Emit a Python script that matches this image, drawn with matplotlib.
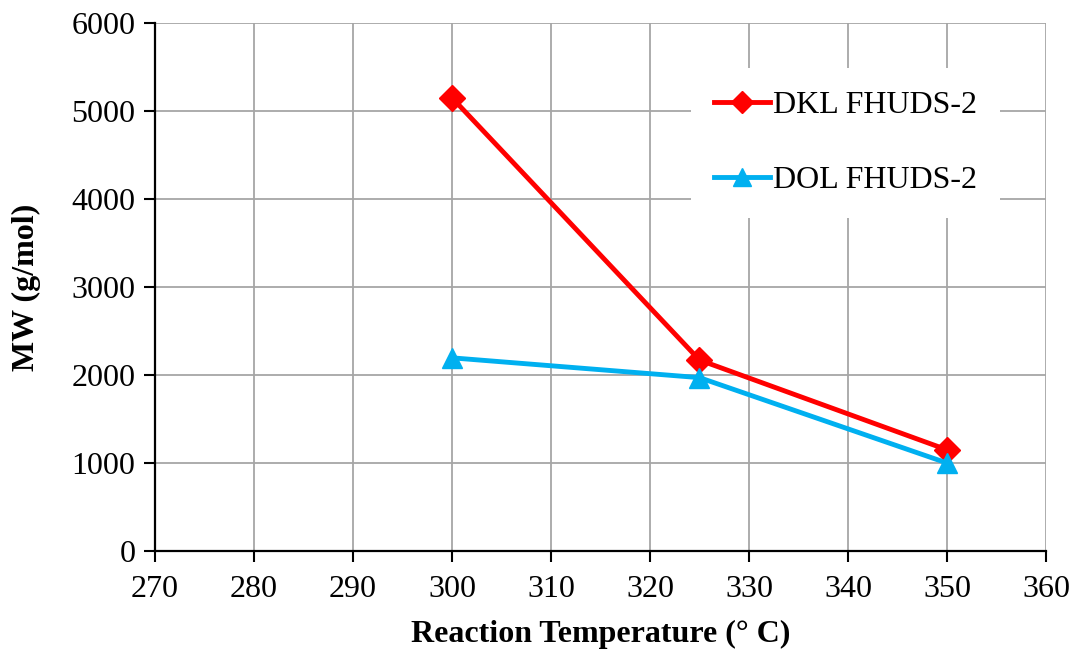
import numpy as np
import matplotlib.pyplot as plt

plt.rcParams['font.family'] = ['Liberation Serif', 'DejaVu Serif']

temp = [300, 325, 350]
mw_dkl = [5150, 2170, 1150]
mw_dol = [2195, 1970, 1000]
labels = ['DKL FHUDS-2', 'DOL FHUDS-2']

fig = plt.figure(figsize=(10.73, 6.51), dpi=100)
ax = fig.add_axes([0.1445, 0.1536, 0.8303, 0.8111])

ax.plot(temp, mw_dkl, color='#ff0000', lw=3.5, marker='D', ms=13, label=labels[0], zorder=3)
ax.plot(temp, mw_dol, color='#00b0f0', lw=3.5, marker='^', ms=15, label=labels[1], zorder=3)

ax.set_xlim(270, 360)
ax.set_ylim(0, 6000)
ax.set_xticks(np.arange(270, 361, 10))
ax.set_yticks(np.arange(0, 6001, 1000))
ax.grid(True, color='#a6a6a6', lw=1.3)
ax.set_axisbelow(True)

for s in ['top', 'right']:
    ax.spines[s].set_visible(False)
ax.spines['left'].set_linewidth(1.6)
ax.spines['bottom'].set_linewidth(1.6)
ax.tick_params(direction='out', length=8, width=1.5, labelsize=23)
ax.tick_params(axis='x', pad=9)
ax.tick_params(axis='y', pad=6)

ax.set_xlabel('Reaction Temperature (° C)', fontsize=23, fontweight='bold', labelpad=12)
ax.set_ylabel('MW (g/mol)', fontsize=23, fontweight='bold', labelpad=22)

leg = ax.legend(loc='upper right', bbox_to_anchor=(0.966, 0.945), frameon=True,
                fontsize=23, labelspacing=1.45, handlelength=1.75, handletextpad=0.12,
                borderpad=0.7, fancybox=False, markerscale=0.85)
leg.get_frame().set_edgecolor('none')
leg.get_frame().set_facecolor('white')
leg.get_frame().set_alpha(1)

fig.savefig('out.png', dpi=100)
